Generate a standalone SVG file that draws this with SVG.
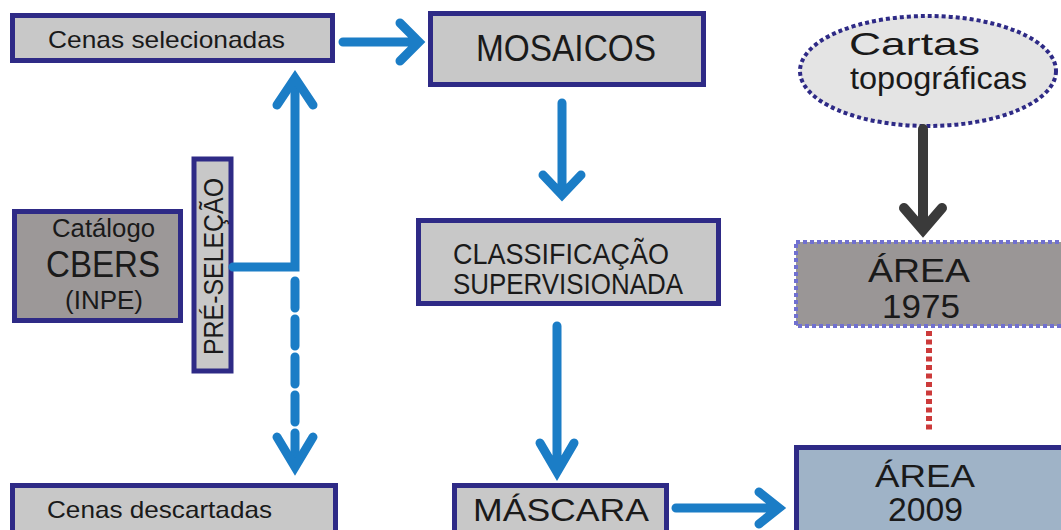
<svg xmlns="http://www.w3.org/2000/svg" width="1061" height="530" viewBox="0 0 1061 530">
<defs>
<style>
.box{fill:#c8c8c8;stroke:#2e2a86;stroke-width:5}
.dark{fill:#9c9898}
.t{font-family:"Liberation Sans",Arial,sans-serif;fill:#1a1a1a}
.blue{fill:none;stroke:#1b7dc6;stroke-width:9;stroke-linecap:round;stroke-linejoin:miter}
.blk{fill:none;stroke:#3a3a3a;stroke-width:10;stroke-linecap:round;stroke-linejoin:miter}
</style>
</defs>
<rect width="1061" height="530" fill="#ffffff"/>

<g id="cenas-selecionadas">
<rect class="box" x="12.5" y="15.5" width="320" height="45"/>
<text class="t" x="48" y="47.5" font-size="24" textLength="237" lengthAdjust="spacingAndGlyphs">Cenas selecionadas</text>
</g>

<g id="mosaicos">
<rect class="box" x="430.5" y="13.5" width="273" height="71"/>
<text class="t" x="476" y="61" font-size="37" textLength="180" lengthAdjust="spacingAndGlyphs">MOSAICOS</text>
</g>

<g id="cartas">
<ellipse cx="928" cy="71" rx="128" ry="55" fill="#e4e4e4" stroke="#2e2a86" stroke-width="4" stroke-dasharray="4 3"/>
<text class="t" x="849" y="55" font-size="32" textLength="131" lengthAdjust="spacingAndGlyphs">Cartas</text>
<text class="t" x="850" y="89" font-size="32" textLength="177" lengthAdjust="spacingAndGlyphs">topográficas</text>
</g>

<g id="catalogo">
<rect class="box dark" x="14.5" y="211.5" width="166" height="109"/>
<text class="t" x="52" y="237" font-size="25" textLength="103" lengthAdjust="spacingAndGlyphs">Catálogo</text>
<text class="t" x="46" y="277" font-size="36" textLength="114" lengthAdjust="spacingAndGlyphs">CBERS</text>
<text class="t" x="65" y="309" font-size="26" textLength="78" lengthAdjust="spacingAndGlyphs">(INPE)</text>
</g>

<g id="pre-selecao">
<rect class="box" x="194" y="159" width="37" height="212" stroke-width="4"/>
<text class="t" transform="translate(223,355) rotate(-90)" x="0" y="0" font-size="28" textLength="177" lengthAdjust="spacingAndGlyphs">PRÉ-SELEÇÃO</text>
</g>

<g id="classificacao">
<rect class="box" x="418.5" y="220.5" width="300" height="83"/>
<text class="t" x="453" y="264" font-size="30" textLength="216" lengthAdjust="spacingAndGlyphs">CLASSIFICAÇÃO</text>
<text class="t" x="453" y="294" font-size="30" textLength="230" lengthAdjust="spacingAndGlyphs">SUPERVISIONADA</text>
</g>

<g id="area-1975">
<rect x="796" y="242" width="290" height="84" fill="#9a9696" stroke="#7070d0" stroke-width="4" stroke-dasharray="4 3"/>
<text class="t" x="868" y="282" font-size="33" textLength="102" lengthAdjust="spacingAndGlyphs">ÁREA</text>
<text class="t" x="882" y="318" font-size="34" textLength="78" lengthAdjust="spacingAndGlyphs">1975</text>
</g>

<g id="area-2009">
<rect x="796.5" y="447.5" width="290" height="100" fill="#9fb3c7" stroke="#2e2a86" stroke-width="5"/>
<text class="t" x="875" y="487" font-size="32" textLength="100" lengthAdjust="spacingAndGlyphs">ÁREA</text>
<text class="t" x="888" y="521" font-size="33" textLength="75" lengthAdjust="spacingAndGlyphs">2009</text>
</g>

<g id="mascara">
<rect class="box" x="454.5" y="485.5" width="212" height="60"/>
<text class="t" x="473" y="521" font-size="31" textLength="176" lengthAdjust="spacingAndGlyphs">MÁSCARA</text>
</g>

<g id="cenas-descartadas">
<rect class="box" x="12.5" y="485.5" width="323" height="60"/>
<text class="t" x="47" y="517.5" font-size="24" textLength="225" lengthAdjust="spacingAndGlyphs">Cenas descartadas</text>
</g>

<g id="connectors">
<path class="blue" d="M343 42 H416 M400 23 L419 42 L400 61"/>
<path class="blue" d="M562 103 V193 M543 175 L562 195 L581 175"/>
<path class="blue" d="M233 267 H295 V80" stroke-linecap="butt"/>
<path class="blue" d="M277 105 L295 78 L313 105"/>
<path class="blue" d="M295 281 V462" stroke-dasharray="27 11" stroke-linecap="butt"/>
<path class="blue" d="M277 437 L295 467 L313 437"/>
<path class="blue" d="M557 326 V470 M540 443 L557 472 L574 443"/>
<path class="blue" d="M676 508 H776 M759 492 L779 508 L759 524"/>
<path class="blk" d="M923 129 V228 M904 208 L923 230 L942 208"/>
<path d="M929 331 V433" fill="none" stroke="#cc3a3a" stroke-width="6" stroke-dasharray="5 3.5"/>
</g>
</svg>
